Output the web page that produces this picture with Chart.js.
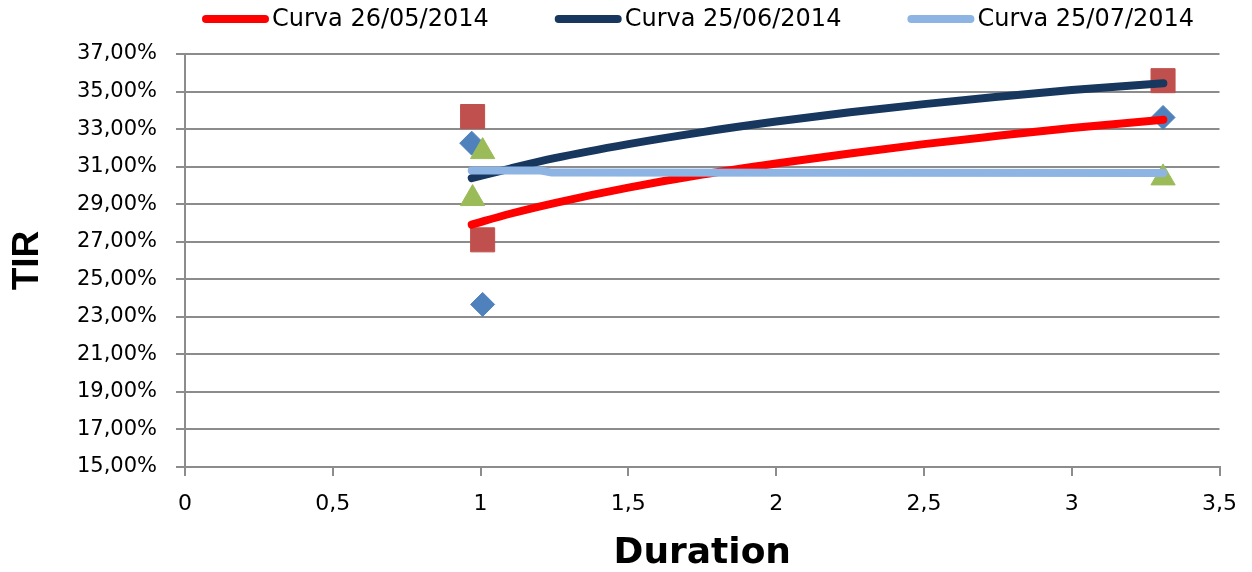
<!DOCTYPE html>
<html>
<head>
<meta charset="utf-8">
<title>TIR vs Duration</title>
<script src="https://cdn.jsdelivr.net/npm/chart.js@4.4.1/dist/chart.umd.min.js"></script>
<style>
  html, body { margin: 0; padding: 0; background: #fff; }
  #grafico { display: block; }
</style>
</head>
<body>
<canvas id="grafico" width="1252" height="572"></canvas>
<script>
// Curvas
const curvaX       = [0.97, 1.1, 1.25, 1.5, 1.75, 2.0, 2.25, 2.5, 2.75, 3.0, 3.31];
const curvaMayo    = [27.91, 28.49, 29.06, 29.88, 30.58, 31.17, 31.7, 32.2, 32.64, 33.06, 33.5];
const curvaJunio   = [30.39, 30.9, 31.45, 32.2, 32.84, 33.4, 33.9, 34.33, 34.72, 35.08, 35.44];
const curvaJulioX  = [0.97, 1.2, 1.24, 3.31];
const curvaJulio   = [30.8, 30.8, 30.69, 30.66];

// Observaciones
const obsX          = [0.97, 1.007, 3.309];
const obsRombos     = [32.25, 23.66, 33.62];
const obsCuadradosX = [0.973, 1.007, 3.309];
const obsCuadrados  = [33.67, 27.1, 35.58];
const obsTriangX    = [1.007, 0.973, 3.309];
const obsTriang     = [31.8, 29.3, 30.4];

const etiquetas = ['Curva 26/05/2014', 'Curva 25/06/2014', 'Curva 25/07/2014'];
const yTicks = { min: 15, max: 37, step: 2 };
const xTicks = { min: 0, max: 3.5, step: 0.5 };

const GRIS = '#8c8c8c';
const pares = (xs, ys) => xs.map((x, i) => ({ x, y: ys[i] }));

const curva = (label, xs, ys, color, order) => ({
  label,
  data: pares(xs, ys),
  showLine: true,
  borderColor: color,
  backgroundColor: color,
  borderWidth: 8,
  borderCapStyle: 'round',
  borderJoinStyle: 'round',
  cubicInterpolationMode: 'monotone',
  pointRadius: 0,
  order,
});

const marcas = (xs, ys, color, estilo, radio, order) => ({
  label: '',
  data: pares(xs, ys),
  showLine: false,
  pointStyle: estilo,
  pointRadius: radio,
  pointHoverRadius: radio,
  pointBackgroundColor: color,
  pointBorderColor: color,
  pointBorderWidth: 1,
  order,
});

// Leyenda dibujada a mano: línea gruesa + texto pegado
const leyendaCurvas = {
  id: 'leyendaCurvas',
  afterDraw(chart, args, opts) {
    const { ctx } = chart;
    ctx.save();
    ctx.font = '24px "DejaVu Sans", Verdana, sans-serif';
    ctx.textBaseline = 'middle';
    ctx.fillStyle = '#000';
    let x = opts.x;
    chart.data.datasets.filter(d => d.showLine).forEach(d => {
      ctx.strokeStyle = d.borderColor;
      ctx.lineWidth = 8;
      ctx.lineCap = 'round';
      ctx.beginPath();
      ctx.moveTo(x + 4, opts.y);
      ctx.lineTo(x + opts.largo - 4, opts.y);
      ctx.stroke();
      const tx = x + opts.largo + 3;
      ctx.fillText(d.label, tx, opts.y + 1);
      x = tx + ctx.measureText(d.label).width + opts.hueco;
    });
    ctx.restore();
  }
};

new Chart(document.getElementById('grafico'), {
  type: 'scatter',
  data: {
    datasets: [
      curva(etiquetas[0], curvaX, curvaMayo, '#ff0000', 3),
      curva(etiquetas[1], curvaX, curvaJunio, '#17375e', 2),
      curva(etiquetas[2], curvaJulioX, curvaJulio, '#8eb4e3', 1),
      marcas(obsX, obsRombos, '#4f81bd', 'rectRot', 12, 6),
      marcas(obsCuadradosX, obsCuadrados, '#c0504d', 'rect', 17, 5),
      marcas(obsTriangX, obsTriang, '#9bbb59', 'triangle', 14, 4),
    ]
  },
  options: {
    responsive: false,
    animation: false,
    layout: { padding: { top: 54, right: 29, left: 0, bottom: 0 } },
    plugins: {
      legend: { display: false },
      tooltip: { enabled: false },
      leyendaCurvas: { x: 202, y: 19, largo: 67, hueco: 66 },
    },
    scales: {
      x: {
        type: 'linear',
        min: xTicks.min, max: xTicks.max,
        afterFit: s => { s.height = 105; },
        ticks: {
          stepSize: xTicks.step,
          padding: 15,
          color: '#000',
          font: { family: '"DejaVu Sans", Verdana, sans-serif', size: 22 },
          callback: v => String(v).replace('.', ','),
        },
        grid: { drawOnChartArea: false, drawTicks: true, tickLength: 9, color: GRIS, lineWidth: 2 },
        border: { color: GRIS, width: 2 },
        title: {
          display: true,
          text: 'Duration',
          color: '#000',
          padding: { top: 0, bottom: 0 },
          font: { family: '"DejaVu Sans", Verdana, sans-serif', size: 36, weight: 'bold', lineHeight: 1 },
        },
      },
      y: {
        min: yTicks.min, max: yTicks.max,
        afterFit: s => { s.width = 185; },
        ticks: {
          stepSize: yTicks.step,
          padding: 19,
          color: '#000',
          font: { family: '"DejaVu Sans", Verdana, sans-serif', size: 21 },
          callback: v => v.toFixed(2).replace('.', ',') + '%',
        },
        grid: { drawTicks: true, tickLength: 9, color: GRIS, lineWidth: 2 },
        border: { color: GRIS, width: 2 },
        title: {
          display: true,
          text: 'TIR',
          color: '#000',
          padding: { top: 9, bottom: 0 },
          font: { family: '"Liberation Sans", Arial, sans-serif', size: 37, weight: 'bold', lineHeight: 1 },
        },
      },
    },
  },
  plugins: [leyendaCurvas],
});
</script>
</body>
</html>
